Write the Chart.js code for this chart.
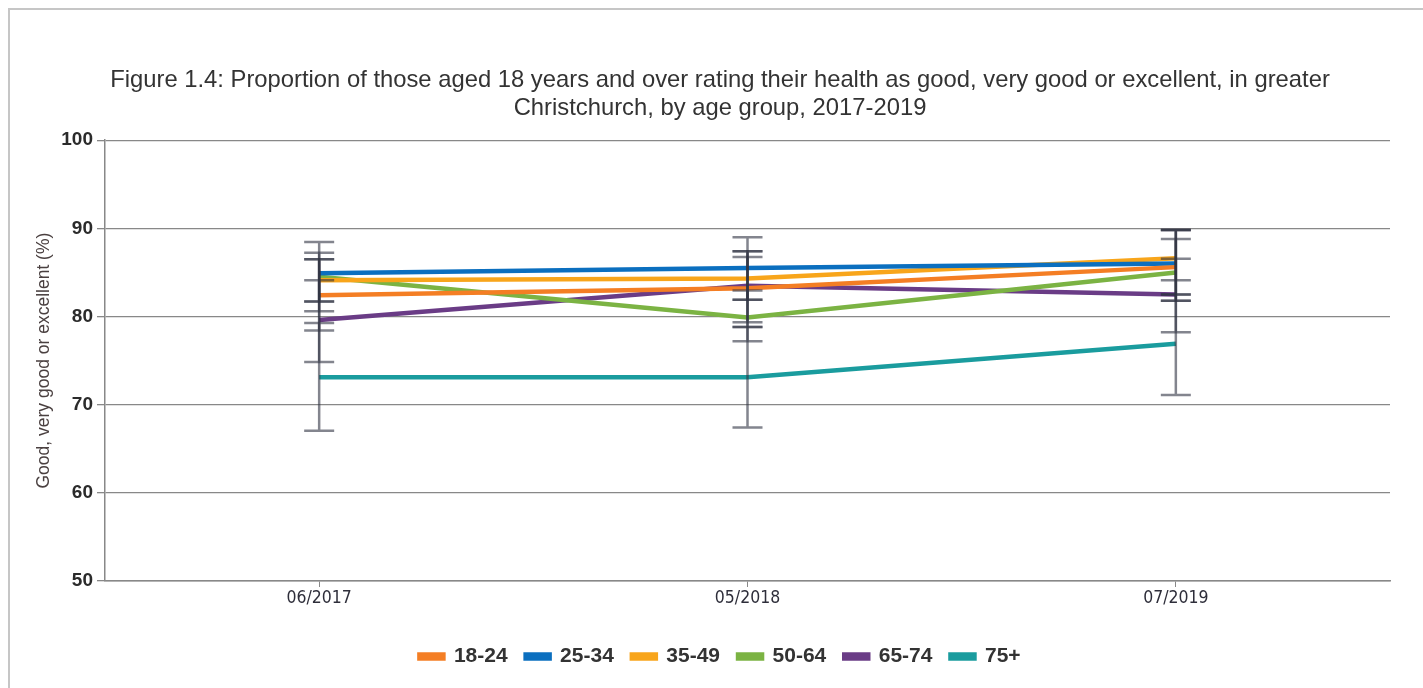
<!DOCTYPE html>
<html>
<head>
<meta charset="utf-8">
<script src="https://cdn.jsdelivr.net/npm/chart.js@4.4.0/dist/chart.umd.min.js"></script>
<style>
    body { margin: 0; background: #fff; overflow: hidden; }
    #frame {
        position: absolute; left: 8px; top: 8px;
        width: 1440px; height: 720px;
        border-left: 2px solid #c6c6c6; border-top: 2px solid #c6c6c6;
    }
    #chart { display: block; }
</style>
</head>
<body>
<div id="frame">
    <canvas id="chart" width="1434" height="700"></canvas>
</div>
<script>
// Survey periods
const periods = ['06/2017', '05/2018', '07/2019'];
const ageGroups = ['18-24', '25-34', '35-49', '50-64', '65-74', '75+'];
const yTicks = [50, 60, 70, 80, 90, 100];

// Percentage rating health good / very good / excellent
const pct_18_24 = [82.4, 83.2, 85.6];
const pct_25_34 = [84.9, 85.5, 86.0];
const pct_35_49 = [84.1, 84.3, 86.6];
const pct_50_64 = [84.5, 79.9, 85.0];
const pct_65_74 = [79.6, 83.5, 82.5];
const pct_75plus = [73.1, 73.1, 76.9];

// 95% confidence intervals (lower / upper)
const ciLow_18_24 = [78.4, 78.8, 81.8];
const ciHigh_18_24 = [86.5, 87.4, 89.8];
const ciLow_25_34 = [81.7, 81.9, 82.5];
const ciHigh_25_34 = [88.45, 89.0, 89.8];
const ciLow_35_49 = [80.6, 81.9, 84.1];
const ciHigh_35_49 = [87.24, 86.75, 89.8];
const ciLow_50_64 = [81.7, 77.2, 81.8];
const ciHigh_50_64 = [86.5, 82.95, 88.8];
const ciLow_65_74 = [74.85, 79.35, 78.2];
const ciHigh_65_74 = [84.1, 87.4, 86.55];
const ciLow_75plus = [67.05, 67.4, 71.1];
const ciHigh_75plus = [79.25, 78.8, 82.5];

const seriesValues = [pct_18_24, pct_25_34, pct_35_49, pct_50_64, pct_65_74, pct_75plus];
const seriesLow = [ciLow_18_24, ciLow_25_34, ciLow_35_49, ciLow_50_64, ciLow_65_74, ciLow_75plus];
const seriesHigh = [ciHigh_18_24, ciHigh_25_34, ciHigh_35_49, ciHigh_50_64, ciHigh_65_74, ciHigh_75plus];
const seriesColors = ['#f47e24', '#0b6fbf', '#f8a51b', '#7bb343', '#6a3c86', '#1a9c9e'];

// Draw error bars on top of the lines
const errorBars = {
    id: 'errorBars',
    afterDatasetsDraw(chart) {
        const ctx = chart.ctx;
        const x = chart.scales.x;
        const y = chart.scales.y;
        ctx.save();
        ctx.strokeStyle = 'rgba(48, 52, 66, 0.6)';
        ctx.lineWidth = 2.5;
        chart.data.datasets.forEach((ds) => {
            periods.forEach((p, j) => {
                const px = x.getPixelForValue(j);
                const yLo = y.getPixelForValue(ds.ciLow[j]);
                const yHi = y.getPixelForValue(ds.ciHigh[j]);
                ctx.beginPath();
                ctx.moveTo(px, yLo);
                ctx.lineTo(px, yHi);
                ctx.moveTo(px - 15, yLo);
                ctx.lineTo(px + 15, yLo);
                ctx.moveTo(px - 15, yHi);
                ctx.lineTo(px + 15, yHi);
                ctx.stroke();
            });
        });
        ctx.restore();
    }
};

const datasets = ageGroups.map((g, i) => ({
    label: g,
    data: seriesValues[i],
    ciLow: seriesLow[i],
    ciHigh: seriesHigh[i],
    borderColor: seriesColors[i],
    backgroundColor: seriesColors[i],
    borderWidth: 4.5,
    pointRadius: 0,
    tension: 0,
    fill: false
}));

new Chart(document.getElementById('chart').getContext('2d'), {
    type: 'line',
    data: { labels: periods, datasets: datasets },
    plugins: [errorBars],
    options: {
        responsive: false,
        animation: false,
        layout: { padding: { left: 40, right: 54, top: 0, bottom: 33 } },
        plugins: {
            tooltip: { enabled: false },
            title: {
                display: true,
                text: ['Figure 1.4: Proportion of those aged 18 years and over rating their health as good, very good or excellent, in greater',
                       'Christchurch, by age group, 2017-2019'],
                color: '#333333',
                font: { family: 'Liberation Sans, Arial, sans-serif', size: 23.8, weight: 'normal', lineHeight: 1.18 },
                padding: { top: 56, bottom: 18 }
            },
            legend: {
                position: 'bottom',
                labels: {
                    color: '#333333',
                    font: { family: 'Liberation Sans, Arial, sans-serif', size: 21, weight: 'bold' },
                    boxWidth: 24,
                    boxHeight: 4,
                    padding: 18
                }
            }
        },
        scales: {
            x: {
                offset: true,
                grid: { drawOnChartArea: false, drawTicks: true, tickLength: 6, color: '#888888' },
                border: { color: '#888888', width: 1.5 },
                ticks: {
                    color: '#2e2e3a',
                    padding: 1,
                    font: { family: 'DejaVu Sans Condensed, Liberation Sans Narrow, Liberation Sans, sans-serif', size: 17.5 }
                },
                afterFit: (scale) => { scale.height = 47; }
            },
            y: {
                min: 50,
                max: 100,
                afterBuildTicks: (scale) => { scale.ticks = yTicks.map(v => ({ value: v })); },
                grid: { color: '#888888', lineWidth: 1.3, tickLength: 8 },
                border: { color: '#888888', width: 1.5 },
                ticks: {
                    color: '#2b2b2b',
                    padding: 4,
                    font: { family: 'Liberation Sans, Arial, sans-serif', size: 19, weight: 'bold' }
                },
                title: {
                    display: true,
                    text: 'Good, very good or excellent (%)',
                    color: '#4a4040',
                    font: { family: 'Liberation Sans, Arial, sans-serif', size: 17.5 },
                    padding: { top: -16, bottom: 0 }
                },
                afterFit: (scale) => { scale.width = 55; }
            }
        }
    }
});
</script>
</body>
</html>
